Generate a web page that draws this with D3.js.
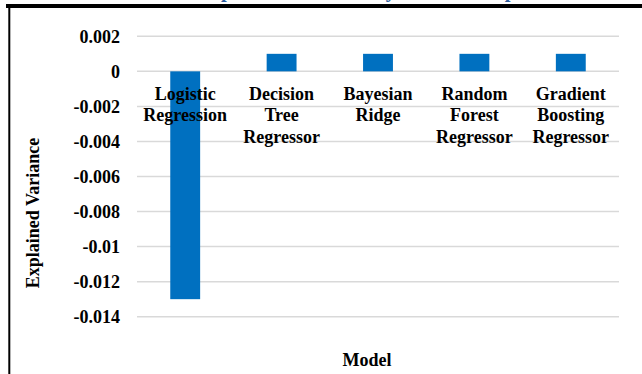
<!DOCTYPE html>
<html>
<head>
<meta charset="utf-8">
<script src="https://cdn.jsdelivr.net/npm/d3@7/dist/d3.min.js"></script>
<style>
  html, body { margin: 0; padding: 0; background: #fff; }
  svg { display: block; }
  text { font-family: "Liberation Serif", "Times New Roman", serif; font-weight: bold; fill: #000; }
</style>
</head>
<body>
<svg id="chart" width="642" height="374"></svg>
<script>
// Explained variance per model
const models = [
  ["Logistic", "Regression"],
  ["Decision", "Tree", "Regressor"],
  ["Bayesian", "Ridge"],
  ["Random", "Forest", "Regressor"],
  ["Gradient", "Boosting", "Regressor"]
];
const explainedVariance = [-0.013, 0.001, 0.001, 0.001, 0.001];
const tickValues = [0.002, 0, -0.002, -0.004, -0.006, -0.008, -0.01, -0.012, -0.014];
const tickLabels = ["0.002", "0", "-0.002", "-0.004", "-0.006", "-0.008", "-0.01", "-0.012", "-0.014"];
const chartTitle = "Explained Variance by Model Comparison";

const svg = d3.select("#chart");
const W = 642, H = 374;
const plot = { left: 137, right: 619, top: 36.3, bottom: 316.7 };

const x = d3.scaleBand()
  .domain(d3.range(models.length))
  .range([plot.left, plot.right])
  .paddingInner(0.69)
  .paddingOuter(0.345);

const y = d3.scaleLinear()
  .domain([-0.014, 0.002])
  .range([plot.bottom, plot.top]);

// title (sits above the frame line, only its descenders reach the page)
svg.append("text")
  .attr("x", 197)
  .attr("y", -3)
  .attr("font-size", 20.6)
  .style("fill", "#2E5E9E")
  .text(chartTitle);

// frame lines
svg.append("rect").attr("x", 6).attr("y", 4).attr("width", W - 6).attr("height", 4).attr("fill", "#000");
svg.append("rect").attr("x", 8.3).attr("y", 8).attr("width", 2).attr("height", H - 8).attr("fill", "#000");

// gridlines
svg.append("g")
  .selectAll("line")
  .data(tickValues)
  .join("line")
  .attr("x1", plot.left)
  .attr("x2", plot.right)
  .attr("y1", d => y(d))
  .attr("y2", d => y(d))
  .attr("stroke", "#d9d9d9")
  .attr("stroke-width", 1.5);

// y axis labels
const yAxis = d3.axisLeft(y)
  .tickValues(tickValues)
  .tickSize(0)
  .tickPadding(0)
  .tickFormat((d, i) => tickLabels[i]);

const gy = svg.append("g")
  .attr("transform", `translate(120,0)`)
  .call(yAxis);
gy.select(".domain").remove();
gy.selectAll("text")
  .attr("font-size", 18)
  .attr("font-family", "Liberation Serif, serif")
  .attr("font-weight", "bold")
  .attr("fill", "#000");

// bars
svg.append("g")
  .selectAll("rect")
  .data(explainedVariance)
  .join("rect")
  .attr("x", (d, i) => x(i))
  .attr("width", x.bandwidth())
  .attr("y", d => y(Math.max(0, d)))
  .attr("height", d => Math.abs(y(d) - y(0)))
  .attr("fill", "#0070C0");

// category labels below the zero line
const cat = svg.append("g")
  .selectAll("text")
  .data(models)
  .join("text")
  .attr("text-anchor", "middle")
  .attr("font-size", 18)
  .attr("y", 99.5);
cat.each(function(lines, i) {
  const t = d3.select(this);
  lines.forEach((ln, k) => {
    t.append("tspan")
      .attr("x", x(i) + x.bandwidth() / 2)
      .attr("dy", k === 0 ? 0 : 21.7)
      .text(ln);
  });
});

// axis titles
svg.append("text")
  .attr("transform", `translate(39,213) rotate(-90)`)
  .attr("text-anchor", "middle")
  .attr("font-size", 18)
  .text("Explained Variance");

svg.append("text")
  .attr("x", 367)
  .attr("y", 366)
  .attr("text-anchor", "middle")
  .attr("font-size", 18)
  .text("Model");
</script>
</body>
</html>
